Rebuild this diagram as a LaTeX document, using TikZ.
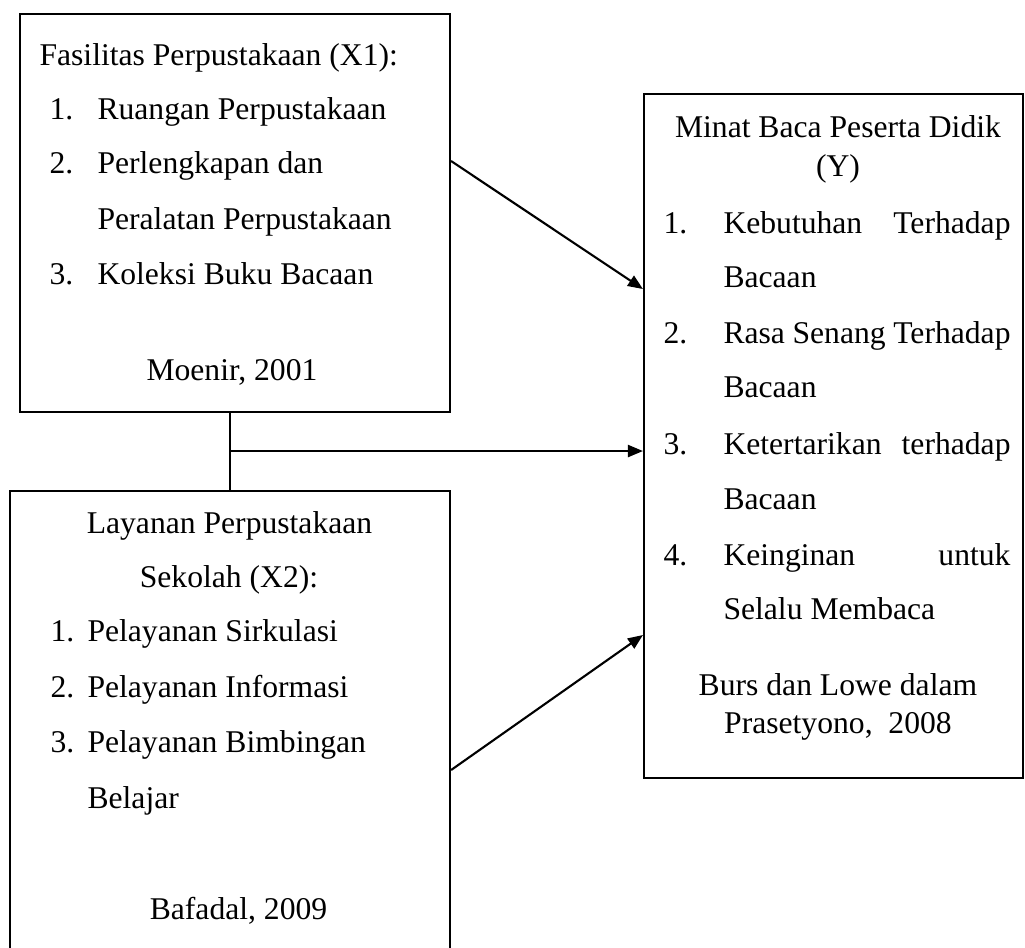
\documentclass[tikz,border=0pt]{standalone}
\usepackage{fontspec}
\setmainfont{Liberation Serif}
\usepackage{tikz}
\usetikzlibrary{arrows.meta}

\begin{document}
\begin{tikzpicture}[
    box/.style={draw, line width=0.8pt, anchor=north west, inner sep=0pt},
    txt/.style={anchor=base west, inner sep=0pt, font=\fontsize{12}{14}\selectfont},
    ctxt/.style={anchor=base, inner sep=0pt, font=\fontsize{12}{14}\selectfont},
    arr/.style={line width=0.8pt, -{Triangle[length=2mm, width=1.6mm]}}
]

    \useasboundingbox (0,0) rectangle (13.667,12.627);

    % the three boxes
    \node[box, minimum width=5.733cm, minimum height=5.307cm] (x1) at (0.253,12.453) {};
    \node[box, minimum width=5.867cm, minimum height=6.2cm] (x2) at (0.12,6.093) {};
    \node[box, minimum width=5.053cm, minimum height=9.12cm] (y) at (8.573,11.387) {};

    % X1
    \node[txt] (x1t) at (0.52,11.76) {Fasilitas Perpustakaan (X1):};
    \node[txt] (x1n1) at (0.653,11.04) {1.};
    \node[txt] (x1a) at (1.293,11.04) {Ruangan Perpustakaan};
    \node[txt] (x1n2) at (0.653,10.307) {2.};
    \node[txt] (x1b) at (1.293,10.307) {Perlengkapan dan};
    \node[txt] (x1c) at (1.293,9.573) {Peralatan Perpustakaan};
    \node[txt] (x1n3) at (0.653,8.827) {3.};
    \node[txt] (x1d) at (1.293,8.827) {Koleksi Buku Bacaan};
    \node[ctxt] (x1s) at (3.093,7.56) {Moenir, 2001};

    % X2
    \node[ctxt] (x2t) at (3.06,5.507) {Layanan Perpustakaan};
    \node[ctxt] (x2u) at (3.053,4.8) {Sekolah (X2):};
    \node[txt] (x2n1) at (0.667,4.08) {1.};
    \node[txt] (x2a) at (1.16,4.08) {Pelayanan Sirkulasi};
    \node[txt] (x2n2) at (0.667,3.333) {2.};
    \node[txt] (x2b) at (1.16,3.333) {Pelayanan Informasi};
    \node[txt] (x2n3) at (0.667,2.587) {3.};
    \node[txt] (x2c) at (1.16,2.587) {Pelayanan Bimbingan};
    \node[txt] (x2d) at (1.16,1.853) {Belajar};
    \node[ctxt] (x2s) at (3.18,0.373) {Bafadal, 2009};

    % Y
    \node[ctxt] (yt) at (11.173,10.787) {Minat Baca Peserta Didik};
    \node[ctxt] (yu) at (11.173,10.28) {(Y)};
    \node[txt] (yn1) at (8.84,9.52) {1.};
    \node[txt] (ya) at (9.64,9.52) {\makebox[3.827cm][s]{Kebutuhan Terhadap}};
    \node[txt] (yb) at (9.64,8.8) {Bacaan};
    \node[txt] (yn2) at (8.84,8.053) {2.};
    \node[txt] (yc) at (9.64,8.053) {\makebox[3.827cm][s]{Rasa Senang Terhadap}};
    \node[txt] (yd) at (9.64,7.333) {Bacaan};
    \node[txt] (yn3) at (8.84,6.573) {3.};
    \node[txt] (ye) at (9.64,6.573) {\makebox[3.827cm][s]{Ketertarikan terhadap}};
    \node[txt] (yf) at (9.64,5.84) {Bacaan};
    \node[txt] (yn4) at (8.84,5.093) {4.};
    \node[txt] (yg) at (9.64,5.093) {\makebox[3.827cm][s]{Keinginan untuk}};
    \node[txt] (yh) at (9.64,4.373) {Selalu Membaca};
    \node[ctxt] (ys) at (11.173,3.347) {Burs dan Lowe dalam};
    \node[ctxt] (ys2) at (11.173,2.853) {Prasetyono,\ \ 2008};

    % connectors
    \coordinate (j) at (x2.north |- 0,6.613);
    \draw[line width=0.8pt] (x2.north) -- (x2.north |- x1.south);
    \draw[arr] (j) -- (j -| y.west);
    \draw[arr] (x1.east |- 0,10.48) -- (y.west |- 0,8.773);
    \draw[arr] (x2.east |- 0,2.36) -- (y.west |- 0,4.16);

\end{tikzpicture}
\end{document}
